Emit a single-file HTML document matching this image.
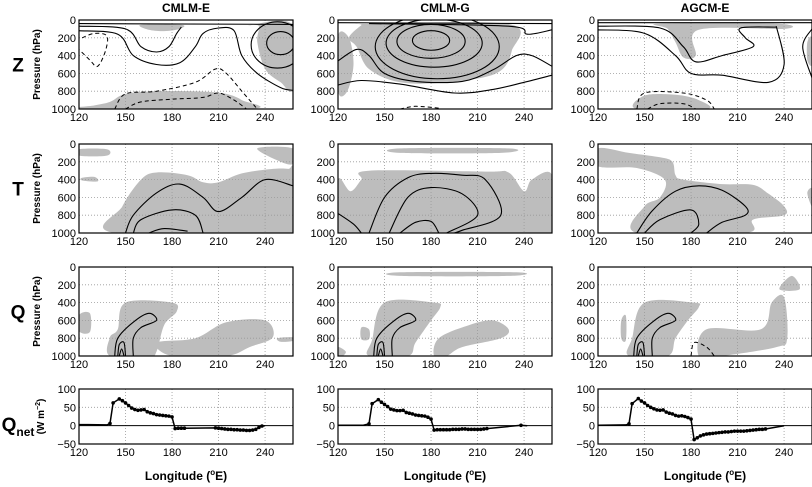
<!DOCTYPE html>
<html><head><meta charset="utf-8"><style>
html,body{margin:0;padding:0;background:#fff;width:812px;height:487px;overflow:hidden}
svg{display:block;font-family:"Liberation Sans",Arial,sans-serif}
</style></head><body>
<svg id="fig" width="812" height="487" xmlns="http://www.w3.org/2000/svg"></svg>
<script>
// ---------- data ----------
const colTitles = ["CMLM-E","CMLM-G","AGCM-E"];
const rowLabels = ["Z","T","Q"];
const lonTicks = [120,150,180,210,240];
const presTicks = [0,200,400,600,800,1000];
const qTicks = [100,50,0,-50];
const qLonE = [120,126,138,140,142,146,148,150,152,154,156,158,160,162,164,166,168,170,172,174,176,178,180,182,184,186,188,208,210,212,214,216,218,220,222,224,226,228,230,232,234,236,238,240];
const qValE = [3,3,2,6,62,73,68,62,55,48,44,42,43,44,38,35,33,30,29,28,27,26,24,-8,-7,-7,-7,-6,-7,-8,-9,-10,-10,-11,-11,-12,-12,-13,-13,-12,-10,-5,-1,0];
const qLonG = [120,136,140,142,146,148,150,152,154,156,158,160,162,164,166,168,170,172,174,176,178,180,182,184,186,188,190,192,194,196,198,200,202,204,206,208,210,212,214,216,238,242];
const qValG = [1,1,5,60,71,64,58,52,45,43,41,41,42,36,34,32,29,28,27,26,23,18,-12,-11,-11,-11,-11,-11,-10,-10,-10,-9,-9,-10,-10,-10,-10,-10,-9,-8,1,0];
const qLonA = [120,138,140,142,146,148,150,152,154,156,158,160,162,164,166,168,170,172,174,176,178,180,182,184,186,188,190,192,194,196,198,200,202,204,206,208,210,212,214,216,218,220,222,224,226,228,240];
const qValA = [1,2,5,60,74,67,62,55,50,46,43,42,43,37,34,32,28,26,27,25,22,18,-38,-33,-28,-25,-23,-22,-21,-20,-19,-18,-17,-17,-16,-15,-15,-15,-15,-14,-13,-12,-11,-10,-10,-9,0];
const qLons = [qLonE,qLonG,qLonA];
const qVals = [qValE,qValG,qValA];

// shaded regions and contours [lon, p]
const shades = [
 [ // Z
  [[[160,55],[165,110],[175,125],[185,100],[186,55]],[[230,60],[236,70],[235,250],[240,550],[250,700],[258,770],[258,60]],[[120,1000],[130,960],[140,920],[150,830],[170,800],[200,805],[215,830],[225,900],[230,1000]]],
  [[[138,45],[230,45],[232,350],[222,600],[190,700],[160,700],[140,550],[132,300],[127,200],[135,60]],[[120,180],[127,200],[130,500],[126,800],[120,800]]],
  [[[160,40],[235,40],[240,100],[185,110],[183,400],[175,420],[170,250],[165,100]],[[145,1000],[150,850],[170,840],[185,900],[190,1000]],[[255,250],[258,200],[258,500],[255,450]]]
 ],
 [ // T
  [[[120,60],[138,60],[138,130],[120,130]],[[122,380],[130,370],[132,420],[122,410]],[[143,1000],[148,700],[160,400],[170,320],[190,350],[200,430],[210,430],[225,330],[245,280],[255,280],[258,300],[258,1000]],[[235,50],[258,50],[258,220],[250,200]]],
  [[[160,50],[230,50],[225,100],[160,100]],[[120,400],[128,530],[135,400],[140,300],[215,310],[230,320],[240,530],[245,400],[258,350],[258,1000],[120,1000]]],
  [[[120,50],[140,100],[160,150],[168,200],[170,350],[175,400],[200,450],[220,460],[230,560],[240,700],[240,800],[220,850],[215,1000],[145,1000],[150,700],[160,600],[163,400],[145,270],[120,250]],[[255,550],[258,500],[258,700]]]
 ],
 [ // Q
  [[[120,540],[127,520],[127,730],[120,720]],[[140,1000],[140,790],[145,700],[150,400],[180,400],[183,500],[175,650],[170,950],[165,1000]],[[170,850],[195,800],[215,620],[240,600],[245,790],[230,900],[215,1000],[180,1000]],[[248,800],[258,790],[258,830],[250,840]]],
  [[[160,60],[235,60],[230,100],[160,100]],[[135,680],[140,700],[140,810],[135,810]],[[140,1000],[142,820],[150,400],[182,400],[186,450],[180,600],[170,850],[165,1000]],[[185,800],[205,650],[220,600],[230,700],[225,800],[200,900],[190,1000],[182,1000]],[[120,900],[125,950],[123,1000],[120,1000]]],
  [[[135,600],[138,550],[138,820],[135,800]],[[140,1000],[142,800],[150,400],[182,400],[185,450],[178,600],[170,800],[165,1000]],[[185,1000],[190,700],[225,700],[232,400],[240,340],[242,800],[235,900],[200,1000]],[[237,250],[245,100],[250,250]]]
 ]
];
const solids = [
 [
  [[[120,40],[258,50]],[[120,70],[150,100],[160,300],[170,360],[178,300],[183,150],[186,80]],[[120,120],[145,160],[155,400],[170,500],[185,480],[195,300],[200,150],[210,90],[220,120],[225,400],[235,600],[250,760],[258,790]]],
  [[[120,30],[258,40]],[[140,40],[230,70],[242,160],[258,110]],[[120,460],[132,330],[140,400],[150,600],[170,690],[200,690],[220,560],[235,400],[245,400],[258,520]],[[120,730],[135,680],[160,720],[195,820],[220,780],[240,700],[258,620]]],
  [[[120,30],[258,30]],[[120,70],[160,90],[175,300],[183,470],[200,400],[220,300],[215,200],[212,90],[235,80]],[[120,110],[150,150],[170,400],[180,600],[200,620],[230,700],[240,500],[235,70]],[[258,100],[252,300],[258,650]]]
 ],
 [
  [[[150,1000],[155,800],[170,550],[185,450],[200,600],[210,760],[225,600],[240,400],[258,470]],[[155,1000],[160,850],[180,740],[195,800],[200,1000]],[[165,1000],[175,950],[190,980]]],
  [[[120,780],[130,900],[135,1000]],[[140,1000],[150,600],[165,380],[180,330],[200,350],[215,400],[225,800],[200,970],[195,1000]],[[153,1000],[165,600],[180,490],[200,560],[210,800],[190,1000]],[[160,1000],[170,880],[180,870],[185,1000]]],
  [[[145,1000],[155,750],[170,530],[185,470],[200,520],[215,700],[215,800],[200,880],[190,1000]],[[150,1000],[160,850],[180,740],[185,900],[180,1000]]]
 ],
 [
  [[[143,1000],[145,800],[155,620],[165,520],[170,600],[160,680],[155,800],[155,1000]],[[145,1000],[146,870],[149,850],[150,1000]],[[146,1000],[147.5,920],[149,1000]]],
  [[[143,1000],[145,800],[155,620],[165,520],[170,600],[160,680],[155,800],[155,1000]],[[145,1000],[146,870],[149,850],[150,1000]],[[146,1000],[147.5,920],[149,1000]]],
  [[[143,1000],[145,800],[155,620],[165,520],[170,600],[160,680],[155,800],[155,1000]],[[145,1000],[146,870],[149,850],[150,1000]],[[146,1000],[147.5,920],[149,1000]]]
 ]
];
const dashes = [
 [
  [[[122,200],[130,150],[138,180],[137,350],[132,520],[127,450],[120,330]],[[143,1000],[150,830],[170,800],[195,700],[208,550],[215,600],[225,800],[235,1000]],[[150,1000],[160,920],[180,890],[200,870],[210,820],[220,900],[228,1000]]],
  [[[160,1000],[170,970],[185,990]]],
  [[[145,1000],[150,820],[175,820],[190,900],[195,1000]],[[152,1000],[160,940],[175,940],[183,1000]]]
 ],
 [[],[],[]],
 [[],[],[[[180,1000],[182,850],[190,900],[195,1000]]]]
];
const ellipses = [ // Z row: [col, lon, p, rlon, rp]
 [0,250,260,9,130],[0,248,280,17,260],
 [1,180,230,12,110],[1,180,240,22,190],[1,182,260,31,270],[1,184,300,40,360]
];

// ---------- layout ----------
const NS="http://www.w3.org/2000/svg";
const svg=document.getElementById('fig');
const colX=[79,338,598], W=214;
const rowY=[[20,109],[144,233],[267,356]];
const qY=[389,444];
const LMIN=120,LMAX=258;
function xs(c,lon){return colX[c]+(lon-LMIN)/(LMAX-LMIN)*W;}
function ys(r,p){return rowY[r][0]+p/1000*(rowY[r][1]-rowY[r][0]);}
function yq(v){return qY[0]+(100-v)/150*(qY[1]-qY[0]);}
function mk(tag,attrs,parent){const e=document.createElementNS(NS,tag);for(const k in attrs)e.setAttribute(k,attrs[k]);(parent||svg).appendChild(e);return e;}
function txt(x,y,s,size,anchor,weight,parent){const t=mk('text',{x:x,y:y,'font-size':size,'text-anchor':anchor||'middle','font-weight':weight||'normal',fill:'#000'},parent);t.textContent=s;return t;}
// smooth Catmull-Rom path
function pathD(c,r,pts,close){
 const P=pts.map(p=>[xs(c,p[0]),ys(r,p[1])]);
 const n=P.length;
 if(n<3) return 'M'+P.map(p=>p[0].toFixed(1)+' '+p[1].toFixed(1)).join(' L')+(close?' Z':'');
 const get=i=>close?P[(i+n)%n]:P[Math.max(0,Math.min(n-1,i))];
 let d='M'+P[0][0].toFixed(1)+' '+P[0][1].toFixed(1);
 const segs=close?n:n-1;
 for(let i=0;i<segs;i++){
  const p0=get(i-1),p1=get(i),p2=get(i+1),p3=get(i+2);
  const c1=[p1[0]+(p2[0]-p0[0])/6,p1[1]+(p2[1]-p0[1])/6];
  const c2=[p2[0]-(p3[0]-p1[0])/6,p2[1]-(p3[1]-p1[1])/6];
  d+=' C'+c1[0].toFixed(1)+' '+c1[1].toFixed(1)+' '+c2[0].toFixed(1)+' '+c2[1].toFixed(1)+' '+p2[0].toFixed(1)+' '+p2[1].toFixed(1);
 }
 return d+(close?' Z':'');
}

// titles
colTitles.forEach((t,c)=>{const e=txt(colX[c]+W/2,12,t,12,'middle','bold');

});
rowLabels.forEach((t,r)=>{const e=txt(18,(rowY[r][0]+rowY[r][1])/2+7,t,19,'middle','bold');

});
{const e=txt(18,qY[0]+42,'Q',19,'middle','bold');


const s=mk('tspan',{'font-size':12,dy:5});s.textContent='net';e.appendChild(s);}

for(let c=0;c<3;c++){
 for(let r=0;r<3;r++){
  const g=mk('g',{});
  
  
  const clipId='cl'+r+c;
  const cp=mk('clipPath',{id:clipId},g);
  mk('rect',{x:colX[c],y:rowY[r][0],width:W,height:rowY[r][1]-rowY[r][0]},cp);
  const inner=mk('g',{'clip-path':'url(#'+clipId+')'},g);
  shades[r][c].forEach(s=>{const e=mk('path',{d:pathD(c,r,s,true),fill:'#bdbdbd',stroke:'none'},inner);
   
   });
  // grid
  lonTicks.slice(1).forEach(l=>mk('line',{x1:xs(c,l),x2:xs(c,l),y1:rowY[r][0],y2:rowY[r][1],stroke:'#999','stroke-width':0.8,'stroke-dasharray':'1,2'},inner));
  presTicks.slice(1,-1).forEach(p=>mk('line',{x1:colX[c],x2:colX[c]+W,y1:ys(r,p),y2:ys(r,p),stroke:'#999','stroke-width':0.8,'stroke-dasharray':'1,2'},inner));
  solids[r][c].forEach(s=>{const e=mk('path',{d:pathD(c,r,s,false),fill:'none',stroke:'#000','stroke-width':1.1},inner);
   
   });
  dashes[r][c].forEach(s=>{const e=mk('path',{d:pathD(c,r,s,false),fill:'none',stroke:'#000','stroke-width':1,'stroke-dasharray':'4,3'},inner);
   
   });
  if(r===0) ellipses.filter(e=>e[0]===c).forEach(el=>{
   const e=mk('ellipse',{cx:xs(c,el[1]),cy:ys(0,el[2]),rx:xs(c,LMIN+el[3])-colX[c],ry:ys(0,el[4])-rowY[0][0],fill:'none',stroke:'#000','stroke-width':1.1},inner);
   
   });
  const fr=mk('rect',{x:colX[c],y:rowY[r][0],width:W,height:rowY[r][1]-rowY[r][0],fill:'none',stroke:'#000','stroke-width':1.2},g);
  
  
  presTicks.forEach(p=>{const t=txt(colX[c]-3,ys(r,p)+4,String(p),11,'end','normal',g);
   
   });
  lonTicks.forEach(l=>{const t=txt(xs(c,l),rowY[r][1]+12,String(l),11,'middle','normal',g);
   
   });
  if(c===0){const t=txt(0,0,'Pressure (hPa)',10,'middle','bold',g);
   t.setAttribute('transform','translate(40,'+((rowY[r][0]+rowY[r][1])/2)+') rotate(-90)');
   
   }
 }
 // Qnet panel
 const g=mk('g',{});
 
 
 lonTicks.slice(1).forEach(l=>mk('line',{x1:xs(c,l),x2:xs(c,l),y1:qY[0],y2:qY[1],stroke:'#999','stroke-width':0.8,'stroke-dasharray':'1,2'},g));
 mk('line',{x1:colX[c],x2:colX[c]+W,y1:yq(50),y2:yq(50),stroke:'#999','stroke-width':0.8,'stroke-dasharray':'1,2'},g);
 mk('line',{x1:colX[c],x2:colX[c]+W,y1:yq(0),y2:yq(0),stroke:'#000','stroke-width':1},g);
 const d=qLons[c].map((l,i)=>(i?'L':'M')+xs(c,l).toFixed(1)+' '+yq(qVals[c][i]).toFixed(1)).join(' ');
 const ln=mk('path',{d:d,fill:'none',stroke:'#000','stroke-width':1.5},g);
 
 
 qLons[c].forEach((l,i)=>{if(l<=138||l===qLons[c][qLons[c].length-1])return;
  const m=mk('circle',{cx:xs(c,l),cy:yq(qVals[c][i]),r:1.8,fill:'#000'},g);
  
  });
 const fr=mk('rect',{x:colX[c],y:qY[0],width:W,height:qY[1]-qY[0],fill:'none',stroke:'#000','stroke-width':1.2},g);
 
 
 qTicks.forEach(v=>{const t=txt(colX[c]-3,yq(v)+4,String(v).replace('-','\u2212'),11,'end','normal',g);
  
  });
 lonTicks.forEach(l=>{const t=txt(xs(c,l),qY[1]+12,String(l),11,'middle','normal',g);
  
  });
 const xl=txt(colX[c]+W/2,480,'Longitude (',12,'middle','bold',g);
 
 
 const sp=mk('tspan',{'font-size':8,dy:-5},xl);sp.textContent='o';
 const sp2=mk('tspan',{dy:5},xl);sp2.textContent='E)';
 if(c===0){const t=txt(0,0,'(W m',10,'middle','bold',g);
  t.setAttribute('transform','translate(44,'+((qY[0]+qY[1])/2)+') rotate(-90)');
  
  
  const s1=mk('tspan',{'font-size':7,dy:-4},t);s1.textContent='\u22122';
  const s2=mk('tspan',{dy:4},t);s2.textContent=')';}
}
</script>
</body></html>
